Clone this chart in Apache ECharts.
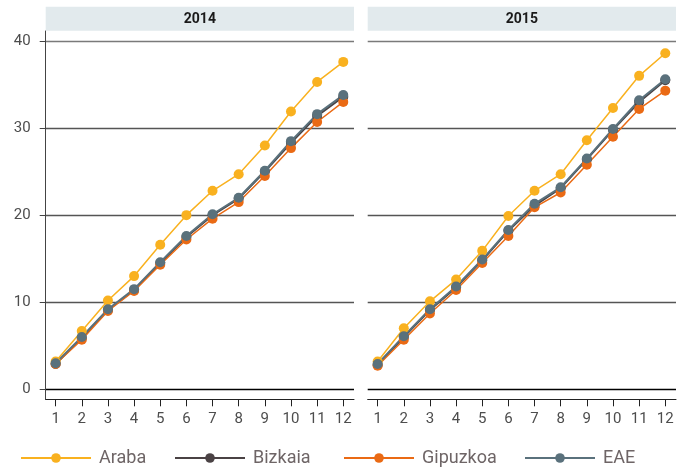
<!DOCTYPE html>
<html>
<head>
    <meta charset="utf-8"/>
    <title></title>
    <script src="https://cdn.jsdelivr.net/npm/echarts@6/dist/echarts.min.js"></script>
</head>
<body style="margin:0;">
<div id="main" style="width:685px;height:468px;"></div>
<script type="text/javascript">
    /* datos */
    var months = [1, 2, 3, 4, 5, 6, 7, 8, 9, 10, 11, 12];
    var yTicks = [0, 10, 20, 30, 40];
    var years = ['2014', '2015'];
    var names = ['Araba', 'Bizkaia', 'Gipuzkoa', 'EAE'];
    var colors = ['#f9b11f', '#4a4244', '#ea6a14', '#5a717c'];

    var araba2014 = [3.2, 6.7, 10.2, 13.0, 16.6, 20.0, 22.8, 24.7, 28.0, 31.9, 35.3, 37.6];
    var bizkaia2014 = [2.9, 5.9, 9.1, 11.4, 14.5, 17.5, 20.0, 21.9, 25.0, 28.3, 31.4, 33.6];
    var gipuzkoa2014 = [2.9, 5.7, 9.0, 11.3, 14.3, 17.2, 19.6, 21.5, 24.5, 27.7, 30.7, 33.0];
    var eae2014 = [3.0, 6.0, 9.2, 11.5, 14.6, 17.6, 20.1, 22.0, 25.1, 28.5, 31.6, 33.8];

    var araba2015 = [3.2, 7.0, 10.1, 12.6, 15.9, 19.9, 22.8, 24.7, 28.6, 32.3, 36.0, 38.6];
    var bizkaia2015 = [2.8, 6.0, 9.1, 11.7, 14.8, 18.2, 21.1, 23.1, 26.4, 29.8, 33.0, 35.5];
    var gipuzkoa2015 = [2.7, 5.7, 8.7, 11.4, 14.5, 17.6, 20.9, 22.6, 25.8, 29.0, 32.2, 34.3];
    var eae2015 = [2.9, 6.1, 9.2, 11.8, 14.9, 18.3, 21.3, 23.2, 26.5, 29.9, 33.2, 35.6];

    var values = [
        [araba2014, bizkaia2014, gipuzkoa2014, eae2014],
        [araba2015, bizkaia2015, gipuzkoa2015, eae2015]
    ];

    var chart = echarts.init(document.getElementById('main'));
    var font = 'Roboto';
    var gridLeft = [45.7, 367.7];
    var gridW = 308.3;

    function pairs(arr) {
        var out = [];
        for (var i = 0; i < months.length; i++) {
            out.push([months[i], arr[i]]);
        }
        return out;
    }

    var grids = [], xAxes = [], yAxes = [], series = [], graphics = [];
    for (var g = 0; g < 2; g++) {
        grids.push({left: gridLeft[g], top: 31, width: gridW, height: 368.3});
        xAxes.push({
            type: 'value', gridIndex: g, min: 0.62, max: 12.41,
            axisLine: {show: true, onZero: false, lineStyle: {color: '#222', width: 1}},
            axisTick: {show: true, length: 7, customValues: months, lineStyle: {color: '#222'}},
            axisLabel: {customValues: months, margin: 12, color: '#4d4d4d', fontSize: 15, fontFamily: font},
            splitLine: {show: false}
        });
        yAxes.push({
            type: 'value', gridIndex: g, min: -1.15, max: 41.15,
            axisLine: {show: g === 0, lineStyle: {color: '#444'}},
            axisTick: {show: g === 0, length: 6, customValues: yTicks, lineStyle: {color: '#444'}},
            axisLabel: {show: g === 0, customValues: yTicks, margin: 15, color: '#4d4d4d', fontSize: 15, fontFamily: font},
            splitLine: {show: true, lineStyle: {color: ['#000', '#555', '#555', '#555', '#7a7a7a'], width: 1.3}}
        });
        for (var s = 0; s < names.length; s++) {
            series.push({
                name: names[s], type: 'line', xAxisIndex: g, yAxisIndex: g,
                data: pairs(values[g][s]),
                symbol: 'circle', symbolSize: 10,
                lineStyle: {width: (s === 0 || s === 2) ? 1.5 : 2, color: colors[s]},
                itemStyle: {color: colors[s]}
            });
        }
        graphics.push({
            type: 'rect', left: gridLeft[g], top: 6.7,
            shape: {width: gridW, height: 24}, style: {fill: '#e2eaed'}
        });
        graphics.push({
            type: 'text', x: gridLeft[g] + gridW / 2, y: 19,
            style: {text: years[g], fill: '#1a1a1a', font: 'bold 14px Roboto', textAlign: 'center', textVerticalAlign: 'middle'}
        });
    }

    var legendLeft = [20, 174, 343, 524];
    var legends = [];
    for (var l = 0; l < names.length; l++) {
        legends.push({
            data: [names[l]], left: legendLeft[l], top: 449, padding: 0,
            itemWidth: 70, itemHeight: 12,
            textStyle: {fontSize: 18, color: '#6e6566', fontFamily: font, padding: [0, 0, 0, 3]}
        });
    }

    var option = {
        animation: false,
        backgroundColor: '#fff',
        grid: grids,
        xAxis: xAxes,
        yAxis: yAxes,
        legend: legends,
        graphic: graphics,
        series: series
    };
    chart.setOption(option);
</script>
</body>
</html>
